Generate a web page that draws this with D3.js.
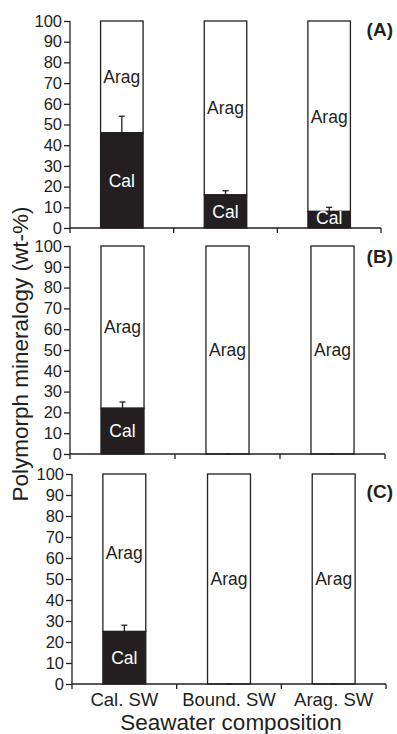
<!DOCTYPE html>
<html>
<head>
<meta charset="utf-8">
<script src="https://cdn.jsdelivr.net/npm/d3@7"></script>
<style>
  html, body { margin: 0; padding: 0; background: #fff; }
  svg { display: block; font-family: "Liberation Sans", Arial, Helvetica, sans-serif; }
</style>
</head>
<body>
<svg id="chart" width="397" height="734"></svg>
<script>
// Seawater treatments (x categories) and panel tags
const categories = ["Cal. SW", "Bound. SW", "Arag. SW"];
const panelTags = ["(A)", "(B)", "(C)"];

// Calcite share (wt-%) per panel, per seawater treatment; aragonite makes up the rest
const calciteA = [46, 16, 8];
const calciteB = [22, 0, 0];
const calciteC = [25, 0, 0];

// Error bar (upper) on the calcite share
const errorA = [8, 2, 2];
const errorB = [3, 0, 0];
const errorC = [3, 0, 0];

const yTickValues = [0, 10, 20, 30, 40, 50, 60, 70, 80, 90, 100];

const calcite = [calciteA, calciteB, calciteC];
const errors = [errorA, errorB, errorC];

// Panel frames: plot box for each of the three stacked panels
const frames = [
  { x0: 70, x1: 381, yTop: 21,  yBot: 228, tagY: 36 },
  { x0: 70, x1: 385, yTop: 246, yBot: 454, tagY: 263 },
  { x0: 72, x1: 386, yTop: 474, yBot: 684, tagY: 498 }
];

const svg = d3.select("#chart");
svg.append("rect").attr("width", 397).attr("height", 734).attr("fill", "#fff");

const ink = "#231f20";

frames.forEach((f, p) => {
  const g = svg.append("g");

  const y = d3.scaleLinear().domain([0, 100]).range([f.yBot, f.yTop]);
  // bars centred in thirds of the axis
  const xBar = d3.scaleBand().domain(categories).range([f.x0, f.x1])
    .paddingInner(0.59).paddingOuter(0.295);
  const xCat = d3.scaleBand().domain(categories).range([f.x0, f.x1]).padding(0);

  const rows = categories.map((c, i) => ({
    cat: c,
    cal: calcite[p][i],
    arag: 100 - calcite[p][i],
    err: errors[p][i]
  }));

  // aragonite (white) part
  g.selectAll(".arag").data(rows).enter().append("rect")
    .attr("x", d => xBar(d.cat))
    .attr("width", xBar.bandwidth())
    .attr("y", y(100))
    .attr("height", d => y(d.cal) - y(100))
    .attr("fill", "#fff")
    .attr("stroke", ink)
    .attr("stroke-width", 1.3);

  // calcite (black) part
  g.selectAll(".cal").data(rows.filter(d => d.cal > 0)).enter().append("rect")
    .attr("x", d => xBar(d.cat))
    .attr("width", xBar.bandwidth())
    .attr("y", d => y(d.cal))
    .attr("height", d => y(0) - y(d.cal))
    .attr("fill", ink)
    .attr("stroke", ink)
    .attr("stroke-width", 1.3);

  // error bars
  rows.forEach(d => {
    const cx = xBar(d.cat) + xBar.bandwidth() / 2;
    g.append("line")
      .attr("x1", cx).attr("x2", cx)
      .attr("y1", y(d.cal)).attr("y2", y(d.cal + d.err))
      .attr("stroke", ink).attr("stroke-width", 1.3);
    g.append("line")
      .attr("x1", cx - 3).attr("x2", cx + 3)
      .attr("y1", y(d.cal + d.err)).attr("y2", y(d.cal + d.err))
      .attr("stroke", ink).attr("stroke-width", 1.3);
  });

  // segment labels
  g.selectAll(".aragLbl").data(rows).enter().append("text")
    .attr("x", d => xBar(d.cat) + xBar.bandwidth() / 2)
    .attr("y", d => y(d.cal + d.arag / 2))
    .attr("dy", "0.36em")
    .attr("text-anchor", "middle")
    .attr("font-size", 17.5)
    .attr("fill", ink)
    .text("Arag");

  g.selectAll(".calLbl").data(rows.filter(d => d.cal > 0)).enter().append("text")
    .attr("x", d => xBar(d.cat) + xBar.bandwidth() / 2)
    .attr("y", d => y(Math.max(d.cal / 2, 4.8)))
    .attr("dy", "0.36em")
    .attr("text-anchor", "middle")
    .attr("font-size", 17.5)
    .attr("fill", "#fff")
    .text("Cal");

  // y axis
  const yAxis = g.append("g")
    .attr("transform", `translate(${f.x0},0)`)
    .call(d3.axisLeft(y).tickValues(yTickValues).tickSize(6).tickPadding(2));
  yAxis.select(".domain").attr("d", `M0,${f.yBot + 5}V${f.yTop}`).attr("stroke", ink).attr("stroke-width", 1.3);
  yAxis.selectAll(".tick line").attr("stroke", ink).attr("stroke-width", 1.3);
  yAxis.selectAll(".tick text").attr("font-size", 16.5).attr("fill", ink)
    .attr("font-family", "\"Liberation Sans\", Arial, sans-serif");

  // x axis line with category boundary ticks
  g.append("line")
    .attr("x1", f.x0).attr("x2", f.x1)
    .attr("y1", f.yBot).attr("y2", f.yBot)
    .attr("stroke", ink).attr("stroke-width", 1.3);
  const bounds = categories.map(c => xCat(c) + xCat.bandwidth());
  g.selectAll(".xtick").data(bounds).enter().append("line")
    .attr("x1", d => d).attr("x2", d => d)
    .attr("y1", f.yBot).attr("y2", f.yBot + 5)
    .attr("stroke", ink).attr("stroke-width", 1.3);

  // panel tag
  g.append("text")
    .attr("x", 393).attr("y", f.tagY)
    .attr("text-anchor", "end")
    .attr("font-size", 19).attr("font-weight", "bold")
    .attr("fill", ink)
    .text(panelTags[p]);

  // category labels on the bottom panel only
  if (p === frames.length - 1) {
    g.selectAll(".catLbl").data(categories).enter().append("text")
      .attr("x", c => xCat(c) + xCat.bandwidth() / 2)
      .attr("y", 706)
      .attr("text-anchor", "middle")
      .attr("font-size", 18.5)
      .attr("fill", ink)
      .text(c => c);
  }
});

// axis titles
svg.append("text")
  .attr("x", 231).attr("y", 730)
  .attr("text-anchor", "middle")
  .attr("font-size", 22.5)
  .attr("fill", ink)
  .text("Seawater composition");

svg.append("text")
  .attr("transform", "translate(28,354) rotate(-90)")
  .attr("text-anchor", "middle")
  .attr("font-size", 22.5)
  .attr("fill", ink)
  .text("Polymorph mineralogy (wt-%)");
</script>
</body>
</html>
